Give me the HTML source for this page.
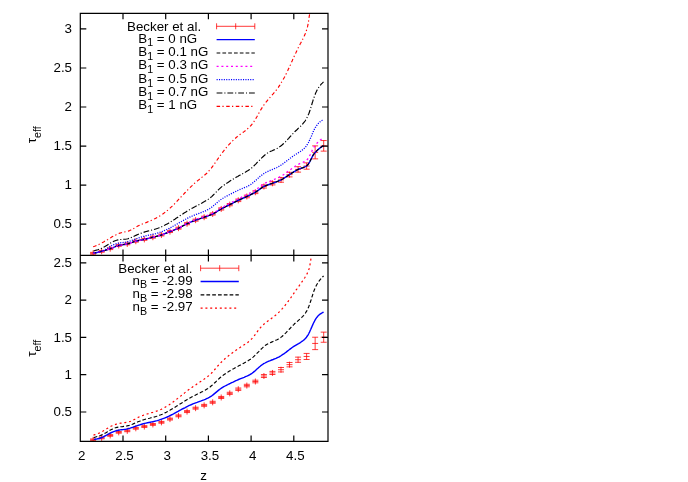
<!DOCTYPE html>
<html><head><meta charset="utf-8"><title>tau_eff</title><style>html,body{margin:0;padding:0;background:#fff}body{width:688px;height:482px;overflow:hidden;position:relative;font-family:"Liberation Sans",sans-serif}</style></head><body>
<svg width="688" height="482" viewBox="0 0 688 482" style="position:absolute;left:0;top:0;will-change:transform">
<defs><clipPath id="ct"><rect x="80.3" y="13.3" width="247.7" height="242.1"/></clipPath><clipPath id="cb"><rect x="80.3" y="255.4" width="247.7" height="186.4"/></clipPath></defs>
<g clip-path="url(#ct)" fill="none" stroke-width="1.30" stroke-linejoin="round">
<path d="M93.11,250.28V256.28M90.11,252.37H96.11M90.11,254.19H96.11M90.11,253.28H96.11M101.65,248.34V254.34M98.65,250.45H104.65M98.65,252.23H104.65M98.65,251.34H104.65M110.19,245.70V251.70M107.19,247.82H113.19M107.19,249.57H113.19M107.19,248.70H113.19M118.73,242.47V248.47M115.73,244.60H121.73M115.73,246.34H121.73M115.73,245.47H121.73M127.27,240.91V246.91M124.27,243.01H130.27M124.27,244.81H130.27M124.27,243.91H130.27M135.81,238.21V244.21M132.81,240.30H138.81M132.81,242.12H138.81M132.81,241.21H138.81M144.35,236.39V242.39M141.35,238.45H147.35M141.35,240.32H147.35M141.35,239.39H147.35M152.89,234.20V240.20M149.89,236.26H155.89M149.89,238.13H155.89M149.89,237.20H155.89M161.43,231.97V237.97M158.43,234.03H164.43M158.43,235.92H164.43M158.43,234.97H164.43M169.97,228.58V234.58M166.97,230.62H172.97M166.97,232.54H172.97M166.97,231.58H172.97M178.51,225.17V231.17M175.51,227.19H181.51M175.51,229.15H181.51M175.51,228.17H181.51M187.05,220.72V226.72M184.05,222.69H190.05M184.05,224.74H190.05M184.05,223.72H190.05M195.59,217.15V223.15M192.59,219.15H198.59M192.59,221.16H198.59M192.59,220.15H198.59M204.13,214.20V220.20M201.13,216.20H207.13M201.13,218.20H207.13M201.13,217.20H207.13M212.67,210.99V216.99M209.67,212.95H215.67M209.67,215.03H215.67M209.67,213.99H215.67M221.21,205.95V211.95M218.21,207.87H224.21M218.21,210.03H224.21M218.21,208.95H224.21M229.75,201.62V207.62M226.75,203.50H232.75M226.75,205.75H232.75M226.75,204.62H232.75M238.29,197.32V203.32M235.29,199.07H241.29M235.29,201.58H241.29M235.29,200.32H241.29M246.83,193.47V199.47M243.83,195.17H249.83M243.83,197.78H249.83M243.83,196.47H249.83M255.37,189.23V195.23M252.37,190.86H258.37M252.37,193.61H258.37M252.37,192.23H258.37M263.91,183.48V189.48M260.91,184.94H266.91M260.91,188.03H266.91M260.91,186.48H266.91M272.45,180.27V186.27M269.45,181.64H275.45M269.45,184.90H275.45M269.45,183.27H275.45M280.99,176.89V182.89M277.99,177.58H283.99M277.99,182.21H283.99M277.99,179.89H283.99M289.53,171.61V177.61M286.53,172.33H292.53M286.53,176.89H292.53M286.53,174.61H292.53M298.07,166.41V172.41M295.07,166.71H301.07M295.07,172.11H301.07M295.07,169.41H301.07M306.61,162.85V169.19M303.61,162.85H309.61M303.61,169.19H309.61M303.61,166.02H309.61M315.15,145.88V158.86M312.15,145.88H318.15M312.15,158.86H318.15M312.15,152.37H318.15M323.69,140.54V151.14M320.69,140.54H326.69M320.69,151.14H326.69M320.69,145.84H326.69" stroke="#ff0000" stroke-width="0.78"/>
<path d="M93.1,253.3 L94.8,252.9 L96.5,252.6 L98.2,252.2 L99.9,251.8 L101.7,251.3 L103.4,250.9 L105.1,250.4 L106.8,249.8 L108.5,249.3 L110.2,248.7 L111.9,248.1 L113.6,247.3 L115.3,246.6 L117.0,246.0 L118.7,245.5 L120.4,245.1 L122.1,244.8 L123.9,244.5 L125.6,244.3 L127.3,243.9 L129.0,243.4 L130.7,242.9 L132.4,242.3 L134.1,241.7 L135.8,241.2 L137.5,240.8 L139.2,240.4 L140.9,240.1 L142.6,239.8 L144.4,239.4 L146.1,239.0 L147.8,238.5 L149.5,238.1 L151.2,237.6 L152.9,237.2 L154.6,236.8 L156.3,236.4 L158.0,235.9 L159.7,235.5 L161.4,235.0 L163.1,234.4 L164.8,233.7 L166.6,233.0 L168.3,232.3 L170.0,231.6 L171.7,230.9 L173.4,230.3 L175.1,229.6 L176.8,228.9 L178.5,228.2 L180.2,227.3 L181.9,226.4 L183.6,225.5 L185.3,224.6 L187.1,223.7 L188.8,222.9 L190.5,222.2 L192.2,221.5 L193.9,220.8 L195.6,220.2 L197.3,219.5 L199.0,218.9 L200.7,218.4 L202.4,217.8 L204.1,217.2 L205.8,216.6 L207.5,216.0 L209.3,215.4 L211.0,214.7 L212.7,214.0 L214.4,213.1 L216.1,212.1 L217.8,211.0 L219.5,209.9 L221.2,209.0 L222.9,208.0 L224.6,207.2 L226.3,206.3 L228.0,205.5 L229.7,204.6 L231.5,203.8 L233.2,202.9 L234.9,202.0 L236.6,201.2 L238.3,200.3 L240.0,199.5 L241.7,198.8 L243.4,198.0 L245.1,197.3 L246.8,196.5 L248.5,195.7 L250.2,194.9 L252.0,194.0 L253.7,193.2 L255.4,192.2 L257.1,191.1 L258.8,189.9 L260.5,188.6 L262.2,187.5 L263.9,186.5 L265.6,185.7 L267.3,185.1 L269.0,184.5 L270.7,183.9 L272.4,183.3 L274.2,182.6 L275.9,182.0 L277.6,181.4 L279.3,180.7 L281.0,179.9 L282.7,179.0 L284.4,177.9 L286.1,176.8 L287.8,175.7 L289.5,174.6 L291.2,173.5 L292.9,172.4 L294.7,171.3 L296.4,170.3 L298.1,169.4 L299.8,168.7 L301.5,168.1 L303.2,167.6 L304.9,166.9 L306.6,166.0 L308.3,164.2 L310.0,161.3 L311.7,157.9 L313.4,154.7 L315.2,152.4 L316.9,150.7 L318.6,149.1 L320.3,147.7 L322.0,146.6 L323.7,145.8" stroke="#0000ff" stroke-width="1.4"/>
<path d="M93.1,253.3 L94.8,252.9 L96.5,252.6 L98.2,252.2 L99.9,251.8 L101.7,251.3 L103.4,250.9 L105.1,250.4 L106.8,249.8 L108.5,249.3 L110.2,248.7 L111.9,248.1 L113.6,247.3 L115.3,246.6 L117.0,246.0 L118.7,245.5 L120.4,245.1 L122.1,244.8 L123.9,244.5 L125.6,244.3 L127.3,243.9 L129.0,243.4 L130.7,242.9 L132.4,242.3 L134.1,241.7 L135.8,241.2 L137.5,240.8 L139.2,240.4 L140.9,240.1 L142.6,239.8 L144.4,239.4 L146.1,239.0 L147.8,238.5 L149.5,238.1 L151.2,237.6 L152.9,237.2 L154.6,236.8 L156.3,236.4 L158.0,235.9 L159.7,235.5 L161.4,235.0 L163.1,234.4 L164.8,233.7 L166.6,233.0 L168.3,232.3 L170.0,231.6 L171.7,230.9 L173.4,230.3 L175.1,229.6 L176.8,228.9 L178.5,228.2 L180.2,227.3 L181.9,226.4 L183.6,225.5 L185.3,224.6 L187.1,223.7 L188.8,222.9 L190.5,222.2 L192.2,221.5 L193.9,220.8 L195.6,220.2 L197.3,219.5 L199.0,218.9 L200.7,218.4 L202.4,217.8 L204.1,217.2 L205.8,216.6 L207.5,216.0 L209.3,215.4 L211.0,214.7 L212.7,214.0 L214.4,213.1 L216.1,212.1 L217.8,211.0 L219.5,209.9 L221.2,209.0 L222.9,208.0 L224.6,207.2 L226.3,206.3 L228.0,205.5 L229.7,204.6 L231.5,203.8 L233.2,202.9 L234.9,202.0 L236.6,201.2 L238.3,200.3 L240.0,199.5 L241.7,198.8 L243.4,198.0 L245.1,197.3 L246.8,196.5 L248.5,195.7 L250.2,194.9 L252.0,194.0 L253.7,193.2 L255.4,192.2 L257.1,191.1 L258.8,189.9 L260.5,188.6 L262.2,187.5 L263.9,186.5 L265.6,185.7 L267.3,185.1 L269.0,184.5 L270.7,183.9 L272.4,183.3 L274.2,182.6 L275.9,182.0 L277.6,181.4 L279.3,180.7 L281.0,179.9 L282.7,179.0 L284.4,177.9 L286.1,176.8 L287.8,175.7 L289.5,174.6 L291.2,173.5 L292.9,172.4 L294.7,171.3 L296.4,170.3 L298.1,169.4 L299.8,168.7 L301.5,168.1 L303.2,167.6 L304.9,166.9 L306.6,166.0 L308.3,164.2 L310.0,161.3 L311.7,157.9 L313.4,154.7 L315.2,152.4 L316.9,150.7 L318.6,149.1 L320.3,147.7 L322.0,146.6 L323.7,145.8" stroke="#000" stroke-width="1.15" stroke-dasharray="3.7 2.1"/>
<path d="M93.1,253.3 L94.8,252.9 L96.5,252.6 L98.2,252.2 L99.9,251.8 L101.7,251.3 L103.4,250.9 L105.1,250.4 L106.8,249.8 L108.5,249.3 L110.2,248.7 L111.9,248.1 L113.6,247.3 L115.3,246.6 L117.0,246.0 L118.7,245.5 L120.4,245.1 L122.1,244.8 L123.9,244.5 L125.6,244.2 L127.3,243.9 L129.0,243.4 L130.7,242.9 L132.4,242.3 L134.1,241.7 L135.8,241.2 L137.5,240.8 L139.2,240.4 L140.9,240.1 L142.6,239.7 L144.4,239.3 L146.1,238.9 L147.8,238.5 L149.5,238.0 L151.2,237.6 L152.9,237.1 L154.6,236.7 L156.3,236.3 L158.0,235.8 L159.7,235.4 L161.4,234.9 L163.1,234.3 L164.8,233.6 L166.6,232.9 L168.3,232.1 L170.0,231.4 L171.7,230.7 L173.4,230.1 L175.1,229.4 L176.8,228.7 L178.5,227.9 L180.2,227.1 L181.9,226.1 L183.6,225.2 L185.3,224.2 L187.1,223.4 L188.8,222.6 L190.5,221.8 L192.2,221.1 L193.9,220.4 L195.6,219.7 L197.3,219.0 L199.0,218.4 L200.7,217.8 L202.4,217.2 L204.1,216.6 L205.8,216.0 L207.5,215.3 L209.3,214.7 L211.0,214.0 L212.7,213.2 L214.4,212.3 L216.1,211.3 L217.8,210.1 L219.5,209.0 L221.2,208.0 L222.9,207.0 L224.6,206.1 L226.3,205.2 L228.0,204.3 L229.7,203.4 L231.5,202.5 L233.2,201.5 L234.9,200.6 L236.6,199.7 L238.3,198.8 L240.0,198.0 L241.7,197.1 L243.4,196.3 L245.1,195.5 L246.8,194.6 L248.5,193.8 L250.2,192.9 L252.0,192.0 L253.7,191.0 L255.4,190.0 L257.1,188.8 L258.8,187.5 L260.5,186.1 L262.2,184.9 L263.9,183.8 L265.6,182.9 L267.3,182.2 L269.0,181.5 L270.7,180.8 L272.4,180.1 L274.2,179.4 L275.9,178.7 L277.6,177.9 L279.3,177.1 L281.0,176.2 L282.7,175.2 L284.4,174.1 L286.1,172.8 L287.8,171.5 L289.5,170.3 L291.2,169.1 L292.9,167.8 L294.7,166.6 L296.4,165.4 L298.1,164.4 L299.8,163.6 L301.5,162.9 L303.2,162.2 L304.9,161.4 L306.6,160.3 L308.3,158.3 L310.0,155.1 L311.7,151.4 L313.4,147.9 L315.2,145.3 L316.9,143.3 L318.6,141.5 L320.3,139.9 L322.0,138.6 L323.7,137.6" stroke="#ff00ff" stroke-dasharray="2 2.8"/>
<path d="M93.5,252.9 L95.0,252.7 L96.5,252.5 L98.0,252.2 L99.4,251.9 L100.8,251.4 L102.2,250.9 L103.5,250.3 L104.9,249.6 L106.2,248.8 L107.6,248.0 L108.9,247.2 L110.3,246.4 L111.6,245.7 L112.9,245.0 L114.3,244.4 L115.7,243.9 L117.0,243.5 L118.4,243.2 L119.8,242.9 L121.2,242.7 L122.6,242.6 L124.1,242.4 L125.5,242.2 L126.9,241.9 L128.4,241.5 L129.8,241.1 L131.2,240.6 L132.7,240.1 L134.1,239.6 L135.6,239.0 L137.1,238.5 L138.5,238.0 L140.0,237.5 L141.4,237.0 L142.9,236.6 L144.3,236.2 L145.8,235.8 L147.2,235.5 L148.7,235.2 L150.1,234.9 L151.6,234.6 L153.0,234.2 L154.4,233.9 L155.8,233.6 L157.2,233.2 L158.6,232.8 L160.0,232.3 L161.4,231.8 L162.8,231.3 L164.1,230.7 L165.5,230.1 L166.8,229.5 L168.2,228.9 L169.5,228.2 L170.9,227.5 L172.2,226.7 L173.5,226.0 L174.8,225.3 L176.2,224.5 L177.5,223.8 L178.8,223.0 L180.2,222.2 L181.5,221.5 L182.8,220.7 L184.2,220.0 L185.5,219.3 L186.8,218.6 L188.2,217.9 L189.6,217.2 L190.9,216.6 L192.3,216.0 L193.7,215.4 L195.0,214.8 L196.4,214.3 L197.8,213.8 L199.2,213.3 L200.6,212.8 L201.9,212.3 L203.3,211.7 L204.6,211.2 L206.0,210.6 L207.3,209.9 L208.6,209.2 L209.8,208.5 L211.1,207.7 L212.3,206.8 L213.5,205.8 L214.7,204.8 L215.9,203.7 L217.0,202.7 L218.2,201.7 L219.4,200.7 L220.5,199.8 L221.7,199.0 L223.0,198.2 L224.2,197.5 L225.4,196.8 L226.7,196.1 L228.0,195.4 L229.3,194.7 L230.7,194.0 L232.0,193.4 L233.4,192.7 L234.8,192.0 L236.1,191.3 L237.5,190.6 L238.9,190.0 L240.2,189.4 L241.6,188.8 L243.0,188.3 L244.3,187.7 L245.6,187.1 L247.0,186.6 L248.3,185.9 L249.5,185.2 L250.8,184.5 L252.0,183.6 L253.2,182.6 L254.4,181.6 L255.6,180.6 L256.7,179.5 L257.9,178.4 L259.0,177.3 L260.2,176.3 L261.4,175.4 L262.5,174.5 L263.7,173.7 L264.9,172.9 L266.2,172.2 L267.5,171.6 L268.8,171.0 L270.1,170.4 L271.5,169.8 L272.9,169.3 L274.2,168.7 L275.6,168.1 L277.0,167.5 L278.3,166.8 L279.6,166.0 L280.9,165.2 L282.2,164.4 L283.4,163.5 L284.6,162.6 L285.8,161.7 L287.0,160.7 L288.2,159.8 L289.4,158.9 L290.6,157.9 L291.8,157.0 L293.1,156.1 L294.3,155.3 L295.6,154.5 L296.8,153.7 L298.1,152.9 L299.3,152.1 L300.6,151.3 L301.7,150.4 L302.9,149.6 L304.0,148.6 L305.0,147.6 L305.9,146.5 L306.7,145.4 L307.5,144.1 L308.3,142.8 L309.0,141.5 L309.6,140.1 L310.2,138.7 L310.9,137.3 L311.5,135.9 L312.1,134.5 L312.7,133.0 L313.3,131.6 L313.9,130.2 L314.6,128.9 L315.3,127.6 L316.1,126.3 L317.0,125.1 L317.9,123.9 L318.9,122.9 L319.9,121.9 L321.1,121.0 L322.4,120.2 L323.6,119.6" stroke="#0000ff" stroke-dasharray="1.1 1.3"/>
<path d="M93.5,251.0 L95.0,250.5 L96.4,250.1 L97.8,249.7 L99.2,249.2 L100.6,248.7 L101.9,248.2 L103.2,247.5 L104.5,246.8 L105.8,246.0 L107.1,245.2 L108.5,244.3 L109.8,243.5 L111.1,242.7 L112.4,241.9 L113.8,241.3 L115.2,240.7 L116.6,240.3 L118.0,239.9 L119.4,239.6 L120.9,239.5 L122.3,239.4 L123.8,239.3 L125.2,239.2 L126.6,239.0 L128.0,238.7 L129.4,238.2 L130.8,237.7 L132.2,237.1 L133.6,236.4 L135.0,235.7 L136.4,235.1 L137.8,234.5 L139.2,233.9 L140.6,233.4 L142.0,232.8 L143.4,232.4 L144.9,231.9 L146.3,231.5 L147.7,231.1 L149.2,230.8 L150.6,230.4 L152.1,230.0 L153.5,229.6 L154.9,229.2 L156.4,228.8 L157.8,228.3 L159.1,227.8 L160.5,227.2 L161.9,226.6 L163.2,226.0 L164.6,225.3 L165.9,224.6 L167.2,223.9 L168.5,223.2 L169.8,222.4 L171.1,221.6 L172.3,220.8 L173.6,220.0 L174.9,219.2 L176.1,218.3 L177.4,217.5 L178.7,216.7 L179.9,215.8 L181.2,215.0 L182.5,214.2 L183.7,213.3 L185.0,212.5 L186.3,211.7 L187.5,210.9 L188.8,210.2 L190.1,209.4 L191.4,208.6 L192.7,207.9 L194.0,207.2 L195.4,206.5 L196.7,205.8 L198.0,205.1 L199.3,204.4 L200.7,203.7 L202.0,203.0 L203.2,202.3 L204.5,201.6 L205.8,200.8 L207.0,200.1 L208.2,199.3 L209.4,198.4 L210.6,197.5 L211.7,196.6 L212.8,195.5 L213.9,194.4 L215.0,193.3 L216.1,192.2 L217.2,191.1 L218.3,189.9 L219.4,188.9 L220.5,187.9 L221.6,186.9 L222.7,186.1 L223.9,185.2 L225.0,184.4 L226.2,183.5 L227.5,182.7 L228.7,181.9 L230.0,181.1 L231.3,180.3 L232.6,179.5 L233.9,178.7 L235.2,177.9 L236.5,177.1 L237.8,176.4 L239.1,175.6 L240.4,174.9 L241.7,174.2 L243.0,173.5 L244.3,172.8 L245.6,172.1 L246.8,171.3 L248.1,170.5 L249.3,169.7 L250.5,168.9 L251.6,168.0 L252.7,167.0 L253.8,166.0 L254.9,164.9 L256.0,163.9 L257.0,162.7 L258.1,161.6 L259.2,160.5 L260.2,159.4 L261.3,158.3 L262.4,157.2 L263.5,156.2 L264.6,155.2 L265.8,154.3 L267.0,153.4 L268.2,152.6 L269.5,151.9 L270.8,151.3 L272.2,150.7 L273.5,150.1 L274.9,149.5 L276.2,148.8 L277.5,148.2 L278.7,147.4 L280.0,146.6 L281.1,145.7 L282.3,144.8 L283.4,143.8 L284.5,142.7 L285.6,141.6 L286.6,140.5 L287.7,139.4 L288.7,138.3 L289.7,137.1 L290.8,136.0 L291.8,134.8 L292.9,133.7 L293.9,132.6 L295.0,131.5 L296.1,130.5 L297.2,129.5 L298.2,128.4 L299.3,127.4 L300.4,126.4 L301.4,125.4 L302.4,124.3 L303.3,123.2 L304.2,122.1 L305.1,121.0 L305.8,119.8 L306.6,118.5 L307.2,117.2 L307.8,115.9 L308.4,114.6 L309.0,113.2 L309.5,111.8 L310.0,110.3 L310.5,108.9 L310.9,107.4 L311.4,106.0 L311.8,104.5 L312.2,103.0 L312.7,101.5 L313.1,100.1 L313.6,98.6 L314.1,97.2 L314.6,95.7 L315.2,94.3 L315.7,92.9 L316.4,91.6 L317.0,90.2 L317.8,88.9 L318.5,87.7 L319.4,86.4 L320.3,85.3 L321.2,84.1 L322.3,83.1 L323.5,81.9" stroke="#000" stroke-width="1.15" stroke-dasharray="5.8 1.95 1.1 1.95"/>
<path d="M93.2,246.8 L94.6,246.3 L96.0,245.7 L97.4,245.1 L98.8,244.5 L100.1,243.8 L101.4,243.1 L102.7,242.4 L104.0,241.7 L105.3,240.9 L106.6,240.2 L107.9,239.4 L109.1,238.6 L110.4,237.9 L111.7,237.1 L113.1,236.3 L114.4,235.6 L115.8,234.9 L117.1,234.2 L118.5,233.6 L119.9,233.1 L121.3,232.7 L122.7,232.3 L124.1,232.0 L125.5,231.8 L126.9,231.5 L128.3,231.1 L129.6,230.6 L131.0,229.9 L132.4,229.2 L133.7,228.5 L135.1,227.7 L136.4,226.9 L137.8,226.1 L139.1,225.4 L140.5,224.8 L141.8,224.2 L143.2,223.7 L144.5,223.1 L145.9,222.6 L147.2,222.1 L148.6,221.5 L150.0,221.0 L151.3,220.4 L152.7,219.8 L154.0,219.1 L155.4,218.4 L156.7,217.7 L158.0,217.0 L159.3,216.2 L160.6,215.5 L161.9,214.6 L163.1,213.8 L164.3,212.9 L165.5,212.0 L166.6,211.0 L167.8,210.1 L168.9,209.1 L170.0,208.1 L171.1,207.1 L172.2,206.1 L173.3,205.0 L174.4,204.0 L175.4,202.9 L176.5,201.8 L177.5,200.7 L178.5,199.6 L179.6,198.5 L180.6,197.4 L181.6,196.3 L182.7,195.2 L183.7,194.1 L184.7,193.0 L185.8,191.9 L186.8,190.9 L187.8,189.8 L188.9,188.7 L190.0,187.6 L191.0,186.6 L192.1,185.6 L193.2,184.5 L194.3,183.5 L195.4,182.5 L196.6,181.6 L197.7,180.6 L198.9,179.7 L200.1,178.7 L201.3,177.8 L202.4,176.9 L203.6,175.9 L204.7,175.0 L205.9,174.0 L207.0,173.0 L208.0,171.9 L209.0,170.8 L210.0,169.7 L211.0,168.6 L211.9,167.4 L212.8,166.2 L213.6,165.0 L214.5,163.7 L215.4,162.5 L216.2,161.3 L217.1,160.0 L217.9,158.8 L218.8,157.6 L219.6,156.4 L220.5,155.2 L221.4,154.0 L222.3,152.8 L223.1,151.6 L224.1,150.4 L225.0,149.2 L225.9,148.1 L226.9,146.9 L227.9,145.8 L228.9,144.7 L229.9,143.6 L231.0,142.5 L232.0,141.4 L233.1,140.4 L234.2,139.3 L235.4,138.3 L236.5,137.3 L237.7,136.4 L238.8,135.4 L240.0,134.5 L241.2,133.6 L242.5,132.7 L243.7,131.9 L244.9,131.0 L246.0,130.1 L247.2,129.1 L248.3,128.2 L249.4,127.2 L250.4,126.1 L251.4,125.0 L252.3,123.8 L253.2,122.6 L254.1,121.4 L254.9,120.1 L255.7,118.8 L256.4,117.5 L257.2,116.2 L257.9,114.9 L258.7,113.5 L259.4,112.2 L260.2,110.9 L260.9,109.6 L261.7,108.4 L262.5,107.1 L263.3,105.9 L264.1,104.7 L265.0,103.6 L265.8,102.4 L266.7,101.3 L267.7,100.1 L268.6,99.0 L269.6,97.9 L270.6,96.7 L271.6,95.6 L272.6,94.5 L273.6,93.3 L274.6,92.2 L275.6,91.0 L276.5,89.8 L277.4,88.6 L278.3,87.4 L279.1,86.1 L279.9,84.9 L280.7,83.6 L281.5,82.3 L282.3,81.1 L283.0,79.8 L283.7,78.5 L284.5,77.2 L285.1,75.8 L285.8,74.5 L286.5,73.2 L287.1,71.8 L287.8,70.5 L288.4,69.1 L289.1,67.8 L289.7,66.4 L290.3,65.1 L290.9,63.7 L291.5,62.3 L292.1,61.0 L292.7,59.6 L293.4,58.2 L294.0,56.8 L294.6,55.5 L295.2,54.1 L295.9,52.7 L296.5,51.4 L297.2,50.0 L297.8,48.7 L298.5,47.3 L299.2,46.0 L299.9,44.6 L300.6,43.3 L301.3,41.9 L302.0,40.6 L302.7,39.3 L303.3,37.9 L304.0,36.6 L304.6,35.2 L305.2,33.8 L305.7,32.5 L306.2,31.1 L306.7,29.7 L307.1,28.3 L307.5,26.9 L307.8,25.4 L308.1,24.0 L308.4,22.5 L308.6,21.0 L308.8,19.5 L309.0,18.0 L309.2,16.5 L309.5,14.9 L309.7,13.8" stroke="#ff0000" stroke-width="1.15" stroke-dasharray="3.5 2.3 1.25 2.55"/>
</g>
<g clip-path="url(#cb)" fill="none" stroke-width="1.30" stroke-linejoin="round">
<path d="M93.11,436.81V442.81M90.11,438.94H96.11M90.11,440.69H96.11M90.11,439.81H96.11M101.65,434.96V440.96M98.65,437.11H104.65M98.65,438.81H104.65M98.65,437.96H104.65M110.19,432.44V438.44M107.19,434.60H113.19M107.19,436.27H113.19M107.19,435.44H113.19M118.73,429.35V435.35M115.73,431.52H121.73M115.73,433.19H121.73M115.73,432.35H121.73M127.27,427.86V433.86M124.27,430.00H130.27M124.27,431.72H130.27M124.27,430.86H130.27M135.81,425.29V431.29M132.81,427.42H138.81M132.81,429.16H138.81M132.81,428.29H138.81M144.35,423.54V429.54M141.35,425.65H147.35M141.35,427.44H147.35M141.35,426.54H147.35M152.89,421.45V427.45M149.89,423.56H155.89M149.89,425.35H155.89M149.89,424.45H155.89M161.43,419.33V425.33M158.43,421.43H164.43M158.43,423.23H164.43M158.43,422.33H164.43M169.97,416.09V422.09M166.97,418.17H172.97M166.97,420.01H172.97M166.97,419.09H172.97M178.51,412.83V418.83M175.51,414.90H181.51M175.51,416.77H181.51M175.51,415.83H181.51M187.05,408.58V414.58M184.05,410.60H190.05M184.05,412.55H190.05M184.05,411.58H190.05M195.59,405.17V411.17M192.59,407.21H198.59M192.59,409.13H198.59M192.59,408.17H198.59M204.13,402.35V408.35M201.13,404.39H207.13M201.13,406.30H207.13M201.13,405.35H207.13M212.67,399.29V405.29M209.67,401.29H215.67M209.67,403.28H215.67M209.67,402.29H215.67M221.21,394.47V400.47M218.21,396.44H224.21M218.21,398.50H224.21M218.21,397.47H224.21M229.75,390.34V396.34M226.75,392.27H232.75M226.75,394.41H232.75M226.75,393.34H232.75M238.29,386.23V392.23M235.29,388.03H241.29M235.29,390.43H241.29M235.29,389.23H241.29M246.83,382.56V388.56M243.83,384.31H249.83M243.83,386.80H249.83M243.83,385.56H249.83M255.37,378.50V384.50M252.37,380.19H258.37M252.37,382.82H258.37M252.37,381.50H258.37M263.91,373.01V379.01M260.91,374.54H266.91M260.91,377.49H266.91M260.91,376.01H266.91M272.45,369.94V375.94M269.45,371.38H275.45M269.45,374.50H275.45M269.45,372.94H275.45M280.99,366.72V372.72M277.99,367.50H283.99M277.99,371.93H283.99M277.99,369.72H283.99M289.53,361.67V367.67M286.53,362.49H292.53M286.53,366.85H292.53M286.53,364.67H292.53M298.07,356.71V362.71M295.07,357.13H301.07M295.07,362.29H301.07M295.07,359.71H301.07M306.61,353.43V359.49M303.61,353.43H309.61M303.61,359.49H309.61M303.61,356.46H309.61M315.15,337.23V349.62M312.15,337.23H318.15M312.15,349.62H318.15M312.15,343.43H318.15M323.69,332.13V342.25M320.69,332.13H326.69M320.69,342.25H326.69M320.69,337.19H326.69" stroke="#ff0000" stroke-width="0.78"/>
<path d="M93.9,439.4 L95.2,439.3 L96.5,439.1 L97.8,438.8 L99.2,438.5 L100.5,438.0 L101.9,437.5 L103.3,436.9 L104.6,436.2 L106.0,435.5 L107.4,434.7 L108.8,433.9 L110.2,433.2 L111.6,432.5 L113.0,431.9 L114.4,431.3 L115.8,430.8 L117.2,430.5 L118.7,430.2 L120.1,429.9 L121.5,429.7 L123.0,429.6 L124.4,429.4 L125.8,429.2 L127.3,428.9 L128.7,428.5 L130.2,428.1 L131.6,427.6 L133.1,427.2 L134.5,426.6 L135.9,426.1 L137.4,425.6 L138.8,425.1 L140.3,424.7 L141.7,424.2 L143.2,423.8 L144.6,423.4 L146.0,423.1 L147.5,422.8 L148.9,422.5 L150.3,422.2 L151.8,421.9 L153.2,421.6 L154.6,421.3 L156.0,420.9 L157.4,420.6 L158.8,420.2 L160.2,419.7 L161.6,419.2 L163.0,418.7 L164.4,418.2 L165.7,417.6 L167.1,417.0 L168.5,416.3 L169.8,415.6 L171.2,415.0 L172.6,414.3 L173.9,413.6 L175.3,412.8 L176.6,412.1 L178.0,411.4 L179.3,410.6 L180.7,409.9 L182.0,409.2 L183.4,408.5 L184.8,407.8 L186.1,407.1 L187.5,406.4 L188.8,405.7 L190.2,405.1 L191.6,404.5 L192.9,403.9 L194.3,403.4 L195.7,402.9 L197.1,402.4 L198.4,401.9 L199.8,401.4 L201.2,400.9 L202.5,400.4 L203.9,399.9 L205.3,399.3 L206.6,398.7 L207.9,398.1 L209.2,397.4 L210.5,396.6 L211.8,395.8 L213.0,394.9 L214.2,393.9 L215.4,392.9 L216.6,391.9 L217.8,390.9 L219.0,389.9 L220.2,389.0 L221.4,388.2 L222.6,387.4 L223.8,386.7 L225.1,386.0 L226.4,385.3 L227.7,384.7 L229.0,384.0 L230.3,383.4 L231.7,382.7 L233.1,382.1 L234.5,381.4 L235.9,380.7 L237.3,380.1 L238.6,379.5 L240.0,378.9 L241.4,378.3 L242.8,377.8 L244.2,377.3 L245.5,376.7 L246.9,376.2 L248.2,375.5 L249.5,374.9 L250.7,374.1 L252.0,373.3 L253.2,372.4 L254.4,371.4 L255.5,370.4 L256.7,369.3 L257.9,368.3 L259.0,367.2 L260.2,366.3 L261.3,365.3 L262.5,364.5 L263.7,363.7 L265.0,363.0 L266.2,362.3 L267.6,361.7 L268.9,361.1 L270.3,360.6 L271.7,360.0 L273.1,359.5 L274.6,358.9 L276.0,358.4 L277.4,357.7 L278.7,357.1 L280.0,356.3 L281.3,355.5 L282.5,354.7 L283.8,353.9 L285.0,353.0 L286.2,352.1 L287.4,351.1 L288.6,350.2 L289.7,349.3 L291.0,348.4 L292.2,347.5 L293.4,346.7 L294.7,345.9 L296.0,345.1 L297.3,344.3 L298.6,343.6 L299.9,342.8 L301.1,342.0 L302.3,341.2 L303.5,340.3 L304.6,339.4 L305.6,338.3 L306.5,337.2 L307.3,336.0 L308.1,334.8 L308.8,333.5 L309.5,332.1 L310.1,330.7 L310.8,329.3 L311.4,327.9 L312.0,326.5 L312.6,325.1 L313.2,323.7 L313.9,322.3 L314.6,321.0 L315.3,319.7 L316.1,318.4 L317.0,317.2 L317.9,316.1 L319.0,315.1 L320.1,314.1 L321.3,313.3 L322.7,312.5 L323.6,312.1" stroke="#0000ff" stroke-width="1.4"/>
<path d="M93.7,437.6 L95.0,437.2 L96.3,436.8 L97.7,436.4 L99.0,436.0 L100.4,435.5 L101.8,434.9 L103.1,434.3 L104.5,433.5 L105.9,432.7 L107.2,431.9 L108.6,431.1 L110.0,430.3 L111.4,429.6 L112.8,428.9 L114.2,428.3 L115.5,427.8 L116.9,427.4 L118.3,427.1 L119.7,426.9 L121.1,426.7 L122.5,426.6 L123.9,426.4 L125.3,426.3 L126.7,426.0 L128.1,425.6 L129.5,425.2 L131.0,424.7 L132.4,424.2 L133.8,423.6 L135.2,423.0 L136.6,422.4 L138.0,421.8 L139.5,421.3 L140.9,420.7 L142.3,420.2 L143.8,419.7 L145.2,419.3 L146.7,418.9 L148.1,418.5 L149.6,418.2 L151.0,417.8 L152.5,417.5 L153.9,417.1 L155.3,416.7 L156.7,416.3 L158.1,415.8 L159.5,415.3 L160.9,414.8 L162.3,414.2 L163.6,413.6 L164.9,412.9 L166.3,412.3 L167.6,411.6 L168.9,410.8 L170.2,410.1 L171.5,409.3 L172.8,408.5 L174.1,407.7 L175.4,406.9 L176.7,406.1 L177.9,405.3 L179.2,404.5 L180.5,403.7 L181.8,402.9 L183.1,402.1 L184.3,401.3 L185.6,400.5 L186.9,399.7 L188.2,399.0 L189.5,398.2 L190.8,397.5 L192.1,396.8 L193.5,396.1 L194.8,395.4 L196.1,394.7 L197.5,394.0 L198.8,393.4 L200.2,392.7 L201.5,392.0 L202.8,391.4 L204.1,390.7 L205.4,390.0 L206.6,389.2 L207.9,388.4 L209.1,387.6 L210.3,386.8 L211.4,385.8 L212.6,384.9 L213.7,383.8 L214.8,382.7 L215.9,381.7 L217.0,380.6 L218.1,379.5 L219.2,378.5 L220.3,377.5 L221.5,376.5 L222.6,375.7 L223.8,374.8 L225.0,374.0 L226.2,373.2 L227.5,372.4 L228.7,371.6 L230.0,370.8 L231.3,370.0 L232.6,369.2 L234.0,368.5 L235.3,367.7 L236.6,367.0 L238.0,366.3 L239.3,365.6 L240.6,364.9 L242.0,364.2 L243.3,363.5 L244.6,362.8 L245.9,362.1 L247.1,361.4 L248.4,360.6 L249.6,359.8 L250.8,359.0 L251.9,358.1 L253.1,357.1 L254.2,356.1 L255.3,355.1 L256.3,354.0 L257.4,352.9 L258.5,351.8 L259.5,350.7 L260.6,349.6 L261.7,348.6 L262.8,347.6 L263.9,346.6 L265.1,345.6 L266.3,344.8 L267.6,344.0 L268.9,343.3 L270.2,342.7 L271.6,342.1 L273.0,341.5 L274.4,340.9 L275.7,340.3 L277.1,339.7 L278.4,339.0 L279.6,338.2 L280.8,337.4 L282.0,336.5 L283.1,335.5 L284.2,334.5 L285.3,333.4 L286.4,332.3 L287.4,331.2 L288.5,330.1 L289.5,329.0 L290.6,327.8 L291.6,326.7 L292.7,325.6 L293.8,324.6 L294.8,323.5 L296.0,322.5 L297.1,321.6 L298.2,320.6 L299.3,319.6 L300.4,318.7 L301.5,317.7 L302.5,316.7 L303.5,315.6 L304.4,314.5 L305.3,313.4 L306.0,312.1 L306.8,310.9 L307.5,309.6 L308.1,308.2 L308.7,306.8 L309.2,305.4 L309.8,303.9 L310.2,302.5 L310.7,301.0 L311.2,299.5 L311.6,298.0 L312.1,296.5 L312.6,295.1 L313.0,293.6 L313.5,292.2 L314.0,290.8 L314.5,289.5 L315.1,288.1 L315.7,286.8 L316.3,285.5 L317.0,284.3 L317.8,283.0 L318.6,281.8 L319.4,280.6 L320.4,279.4 L321.4,278.2 L322.5,277.0 L323.6,276.0" stroke="#000" stroke-width="1.15" stroke-dasharray="3.7 2.1"/>
<path d="M93.5,435.1 L94.9,434.7 L96.3,434.3 L97.7,433.7 L99.1,433.1 L100.4,432.4 L101.8,431.7 L103.1,431.0 L104.4,430.2 L105.7,429.4 L107.0,428.6 L108.3,427.8 L109.6,427.0 L110.9,426.3 L112.2,425.7 L113.6,425.1 L115.0,424.6 L116.4,424.1 L117.8,423.8 L119.2,423.4 L120.7,423.2 L122.1,423.0 L123.6,422.8 L125.0,422.6 L126.5,422.4 L127.9,422.1 L129.3,421.7 L130.7,421.2 L132.1,420.6 L133.5,419.9 L134.8,419.2 L136.2,418.4 L137.5,417.7 L138.9,417.0 L140.2,416.4 L141.6,415.9 L143.0,415.4 L144.3,414.9 L145.7,414.5 L147.1,414.0 L148.5,413.6 L150.0,413.2 L151.4,412.7 L152.9,412.3 L154.4,411.8 L155.8,411.4 L157.2,410.9 L158.7,410.3 L160.1,409.8 L161.4,409.2 L162.8,408.5 L164.1,407.8 L165.4,407.1 L166.7,406.3 L167.9,405.5 L169.2,404.7 L170.4,403.9 L171.6,403.0 L172.8,402.2 L174.0,401.3 L175.2,400.4 L176.4,399.4 L177.6,398.5 L178.7,397.6 L179.9,396.6 L181.1,395.7 L182.2,394.7 L183.4,393.8 L184.6,392.9 L185.8,391.9 L187.0,391.0 L188.2,390.1 L189.5,389.2 L190.7,388.4 L191.9,387.5 L193.2,386.6 L194.4,385.8 L195.7,384.9 L196.9,384.1 L198.2,383.3 L199.4,382.4 L200.6,381.6 L201.9,380.8 L203.1,380.0 L204.2,379.1 L205.4,378.3 L206.6,377.4 L207.7,376.5 L208.8,375.6 L209.9,374.6 L211.0,373.6 L212.1,372.5 L213.2,371.4 L214.2,370.2 L215.2,369.0 L216.2,367.8 L217.2,366.6 L218.2,365.5 L219.2,364.4 L220.2,363.3 L221.2,362.3 L222.3,361.3 L223.3,360.3 L224.4,359.3 L225.5,358.3 L226.6,357.4 L227.8,356.4 L228.9,355.5 L230.1,354.6 L231.4,353.6 L232.6,352.7 L233.8,351.8 L235.1,350.9 L236.3,350.0 L237.6,349.1 L238.9,348.2 L240.1,347.4 L241.4,346.6 L242.6,345.9 L243.8,345.1 L245.1,344.3 L246.3,343.5 L247.4,342.7 L248.6,341.7 L249.7,340.8 L250.8,339.7 L251.9,338.6 L252.9,337.4 L253.9,336.3 L254.8,335.1 L255.7,333.9 L256.6,332.6 L257.5,331.4 L258.4,330.2 L259.3,329.0 L260.2,327.9 L261.2,326.8 L262.2,325.7 L263.3,324.7 L264.4,323.7 L265.6,322.8 L266.7,321.9 L267.9,321.0 L269.2,320.1 L270.4,319.2 L271.6,318.3 L272.8,317.5 L274.0,316.5 L275.2,315.6 L276.3,314.6 L277.4,313.6 L278.5,312.6 L279.6,311.6 L280.6,310.5 L281.6,309.4 L282.6,308.3 L283.6,307.1 L284.5,306.0 L285.5,304.8 L286.4,303.7 L287.3,302.5 L288.2,301.3 L289.1,300.1 L290.0,298.8 L290.9,297.6 L291.7,296.4 L292.6,295.2 L293.5,293.9 L294.3,292.7 L295.2,291.4 L296.0,290.2 L296.9,289.0 L297.7,287.7 L298.6,286.5 L299.5,285.3 L300.3,284.1 L301.2,282.9 L302.1,281.7 L302.9,280.4 L303.8,279.2 L304.6,278.0 L305.4,276.7 L306.1,275.5 L306.8,274.2 L307.5,272.9 L308.0,271.5 L308.6,270.1 L309.1,268.7 L309.5,267.2 L309.8,265.7 L310.1,264.1 L310.3,262.6 L310.6,261.1 L310.8,259.5 L311.1,258.1 L311.5,256.7 L311.8,255.7" stroke="#ff0000" stroke-width="1.2" stroke-dasharray="2 2.8"/>
</g>
<g fill="none" stroke-width="1.30">
<path d="M216.6,26.3H254.8M216.6,23.3V29.3M254.8,23.3V29.3M235.7,23.3V29.3" stroke="#ff0000" stroke-width="0.78"/>
<path d="M216.6,39.6H254.8" stroke="#0000ff" stroke-width="1.4"/>
<path d="M216.6,53.0H254.8" stroke="#000" stroke-width="1.15" stroke-dasharray="3.7 2.1"/>
<path d="M216.6,66.3H254.8" stroke="#ff00ff" stroke-dasharray="2 2.8"/>
<path d="M216.6,79.7H254.8" stroke="#0000ff" stroke-dasharray="1.1 1.3"/>
<path d="M216.6,93.0H254.8" stroke="#000" stroke-width="1.15" stroke-dasharray="5.8 1.95 1.1 1.95"/>
<path d="M216.6,106.4H254.8" stroke="#ff0000" stroke-width="1.15" stroke-dasharray="3.5 2.3 1.25 2.55"/>
<path d="M200.6,268.2H238.8M200.6,265.2V271.2M238.8,265.2V271.2M219.7,265.2V271.2" stroke="#ff0000" stroke-width="0.78"/>
<path d="M200.6,281.5H238.8" stroke="#0000ff" stroke-width="1.4"/>
<path d="M200.6,294.9H238.8" stroke="#000" stroke-width="1.15" stroke-dasharray="3.7 2.1"/>
<path d="M200.6,308.2H238.8" stroke="#ff0000" stroke-width="1.2" stroke-dasharray="2 2.8"/>
</g>
<path d="M80.3,13.3H328.0V441.4H80.3ZM80.3,255.4H328.0M123.0,13.3v6.0M123.0,249.4v12.0M123.0,441.4v-6.0M165.7,13.3v6.0M165.7,249.4v12.0M165.7,441.4v-6.0M208.4,13.3v6.0M208.4,249.4v12.0M208.4,441.4v-6.0M251.1,13.3v6.0M251.1,249.4v12.0M251.1,441.4v-6.0M293.8,13.3v6.0M293.8,249.4v12.0M293.8,441.4v-6.0M80.3,224.2h6.0M328.0,224.2h-6.0M80.3,185.1h6.0M328.0,185.1h-6.0M80.3,146.1h6.0M328.0,146.1h-6.0M80.3,107.0h6.0M328.0,107.0h-6.0M80.3,68.0h6.0M328.0,68.0h-6.0M80.3,28.9h6.0M328.0,28.9h-6.0M80.3,412.0h6.0M328.0,412.0h-6.0M80.3,374.7h6.0M328.0,374.7h-6.0M80.3,337.4h6.0M328.0,337.4h-6.0M80.3,300.1h6.0M328.0,300.1h-6.0M80.3,262.8h6.0M328.0,262.8h-6.0" fill="none" stroke="#000" stroke-width="1.2"/>
<g font-family="Liberation Sans, sans-serif" font-size="13.33" fill="#000">
<text x="72" y="228.4" text-anchor="end">0.5</text>
<text x="72" y="189.3" text-anchor="end">1</text>
<text x="72" y="150.3" text-anchor="end">1.5</text>
<text x="72" y="111.2" text-anchor="end">2</text>
<text x="72" y="72.2" text-anchor="end">2.5</text>
<text x="72" y="33.1" text-anchor="end">3</text>
<text x="72" y="416.2" text-anchor="end">0.5</text>
<text x="72" y="378.9" text-anchor="end">1</text>
<text x="72" y="341.6" text-anchor="end">1.5</text>
<text x="72" y="304.3" text-anchor="end">2</text>
<text x="72" y="267.0" text-anchor="end">2.5</text>
<text x="81.8" y="460.2" text-anchor="middle">2</text>
<text x="124.5" y="460.2" text-anchor="middle">2.5</text>
<text x="167.2" y="460.2" text-anchor="middle">3</text>
<text x="209.9" y="460.2" text-anchor="middle">3.5</text>
<text x="252.6" y="460.2" text-anchor="middle">4</text>
<text x="295.3" y="460.2" text-anchor="middle">4.5</text>
<text x="203.6" y="480.3" text-anchor="middle">z</text>
<text transform="translate(36.2,134.7) rotate(-90)" text-anchor="middle">τ<tspan font-size="10.67" dy="4.3">eff</tspan></text>
<text transform="translate(36.2,348.3) rotate(-90)" text-anchor="middle">τ<tspan font-size="10.67" dy="4.3">eff</tspan></text>
<text x="127.0" y="30.9">Becker et al.</text>
<text x="138.3" y="42.6">B<tspan font-size="10.67" dy="3.8">1</tspan><tspan dy="-3.8"> = 0 nG</tspan></text>
<text x="138.3" y="56.0">B<tspan font-size="10.67" dy="3.8">1</tspan><tspan dy="-3.8"> = 0.1 nG</tspan></text>
<text x="138.3" y="69.3">B<tspan font-size="10.67" dy="3.8">1</tspan><tspan dy="-3.8"> = 0.3 nG</tspan></text>
<text x="138.3" y="82.7">B<tspan font-size="10.67" dy="3.8">1</tspan><tspan dy="-3.8"> = 0.5 nG</tspan></text>
<text x="138.3" y="96.0">B<tspan font-size="10.67" dy="3.8">1</tspan><tspan dy="-3.8"> = 0.7 nG</tspan></text>
<text x="138.3" y="109.4">B<tspan font-size="10.67" dy="3.8">1</tspan><tspan dy="-3.8"> = 1 nG</tspan></text>
<text x="118.3" y="272.8">Becker et al.</text>
<text x="132.6" y="284.5">n<tspan font-size="10.67" dy="3.8">B</tspan><tspan dy="-3.8"> = -2.99</tspan></text>
<text x="132.6" y="297.9">n<tspan font-size="10.67" dy="3.8">B</tspan><tspan dy="-3.8"> = -2.98</tspan></text>
<text x="132.6" y="311.2">n<tspan font-size="10.67" dy="3.8">B</tspan><tspan dy="-3.8"> = -2.97</tspan></text>
</g>
</svg>
</body></html>
